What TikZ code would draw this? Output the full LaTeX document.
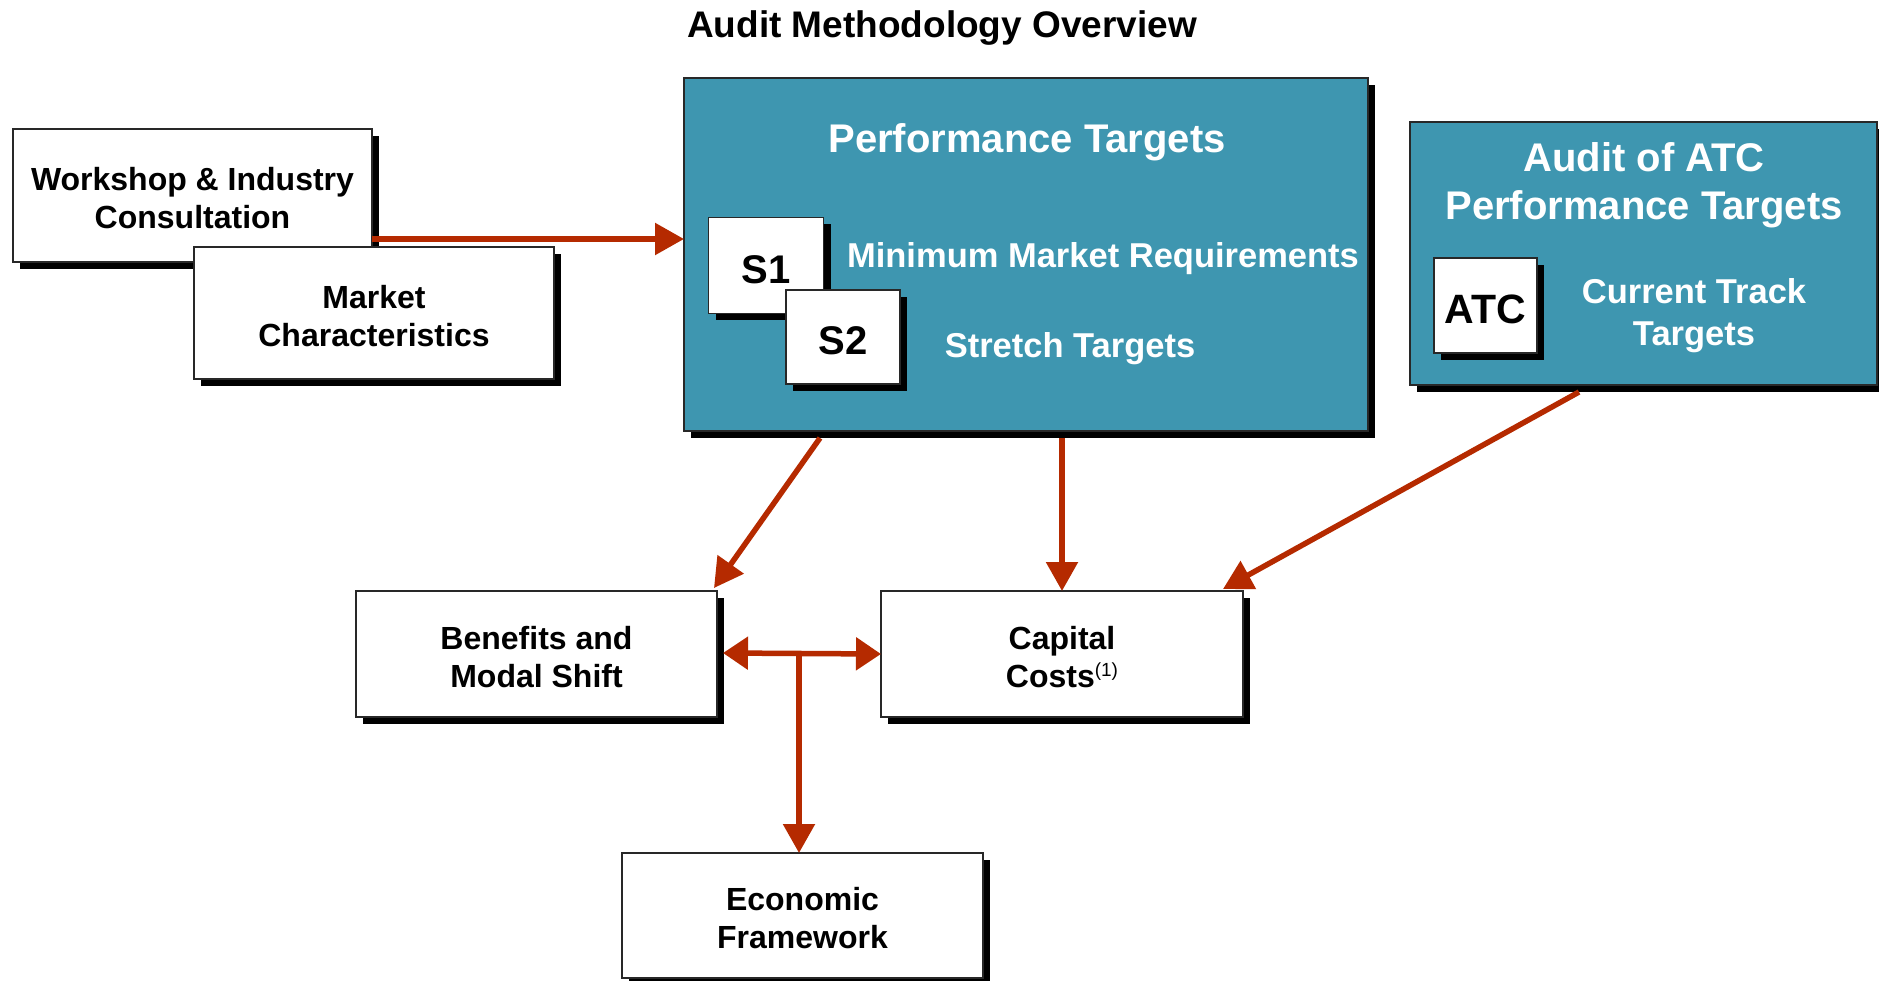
\documentclass[tikz,border=0pt]{standalone}
\usepackage{fontspec}
\setmainfont{Liberation Sans}
\usetikzlibrary{arrows.meta,shadows}
\definecolor{panelteal}{RGB}{62,150,176}
\definecolor{flowred}{RGB}{181,42,0}
\definecolor{edgegray}{RGB}{40,40,40}

\begin{document}
\begin{tikzpicture}[x=1pt,y=-1pt,
  card/.style={draw=edgegray, line width=1.5pt, fill=white, inner sep=0pt, outer sep=0pt,
    align=center, text=black,
    drop shadow={shadow xshift=7pt, shadow yshift=-7pt, fill=black, opacity=1}},
  panel/.style={card, fill=panelteal},
  boxtext/.style={inner sep=0pt, align=center, font=\fontsize{32}{38}\selectfont\bfseries},
  tagtext/.style={font=\fontsize{40}{44}\selectfont\bfseries,
    execute at begin node={\rule{0pt}{36pt}}},
  label/.style={inner sep=0pt, outer sep=0pt, anchor=base, text=white},
  flow/.style={draw=flowred, line width=5.5pt,
    -{Triangle[length=29pt,width=31pt]}},
  both/.style={draw=flowred, line width=5.5pt,
    {Triangle[length=25pt,width=32pt]}-{Triangle[length=25pt,width=32pt]}}
]
\useasboundingbox (0,0) rectangle (1879,981);

% heading
\node[inner sep=0pt, anchor=base, font=\fontsize{37}{40}\selectfont\bfseries] (title) at (942,38) {Audit Methodology Overview};

% inputs on the left
\node[card, minimum width=359pt, minimum height=133pt] (ws) at (192.5,195.5) {};
\node[boxtext] (wsT) at ([yshift=-3pt]ws.center) {Workshop \& Industry\\Consultation};
\node[card, minimum width=360pt, minimum height=132pt] (mk) at (374,313) {};
\node[boxtext] (mkT) at ([yshift=-3pt]mk.center) {Market\\Characteristics};

% performance targets panel
\node[panel, minimum width=684pt, minimum height=353pt] (pt) at (1026,254.5) {};
\node[label, font=\fontsize{40}{44}\selectfont\bfseries] (pthead) at (1027,152.5) {Performance Targets};
\node[card, tagtext, minimum width=115pt, minimum height=96pt] (s1) at (766,265.5) {S1};
\node[card, tagtext, minimum width=114pt, minimum height=94pt] (s2) at (843,337) {S2};
\node[label, font=\fontsize{34.5}{40}\selectfont\bfseries] (mmr) at (1103,267.5) {Minimum Market Requirements};
\node[label, font=\fontsize{34.5}{40}\selectfont\bfseries] (st) at (1070,357.5) {Stretch Targets};

% ATC audit panel
\node[panel, minimum width=467pt, minimum height=263pt] (atc) at (1643.5,253.5) {};
\node[label, font=\fontsize{40}{44}\selectfont\bfseries] (atch1) at (1644,171.5) {Audit of ATC};
\node[label, font=\fontsize{40}{44}\selectfont\bfseries] (atch2) at (1644,219.5) {Performance Targets};
\node[card, tagtext, font=\fontsize{41}{44}\selectfont\bfseries, minimum width=103pt, minimum height=95pt] (atcs) at (1485.5,305.5) {ATC};
\node[label, font=\fontsize{34.5}{40}\selectfont\bfseries] (ct1) at (1694,303.5) {Current Track};
\node[label, font=\fontsize{34.5}{40}\selectfont\bfseries] (ct2) at (1694,345.5) {Targets};

% outcomes
\node[card, minimum width=361pt, minimum height=126pt] (bm) at (536.5,654) {};
\node[boxtext] (bmT) at ([yshift=-3pt]bm.center) {Benefits and\\Modal Shift};
\node[card, minimum width=362pt, minimum height=126pt] (cc) at (1062,654) {};
\node[boxtext] (ccT) at ([yshift=-3pt]cc.center)
  {Capital\\Costs\raisebox{11pt}{\fontsize{19}{19}\selectfont\mdseries(1)}};
\node[card, minimum width=361pt, minimum height=125pt] (ef) at (802.5,915.5) {};
\node[boxtext] (efT) at ([yshift=-3pt]ef.center) {Economic\\Framework};

% connectors
\draw[flow] ([yshift=-43.5pt]ws.east) -- ([yshift=-43.5pt]ws.east -| pt.west);
\draw[flow] ([xshift=-206pt,yshift=-7pt]pt.south) -- ([xshift=-3pt,yshift=3pt]bm.north east);
\draw[flow] ([yshift=-7pt]pt.south -| cc.north) -- (cc.north);
\draw[flow] ([xshift=-64.5pt,yshift=-7pt]atc.south) -- ([xshift=-20pt,yshift=2pt]cc.north east);
\draw[both] ([xshift=6pt,yshift=1pt]bm.east) -- (cc.west);
\coordinate (jn) at (799,653);
\draw[flow] (jn) -- (jn |- ef.north);
\end{tikzpicture}
\end{document}
